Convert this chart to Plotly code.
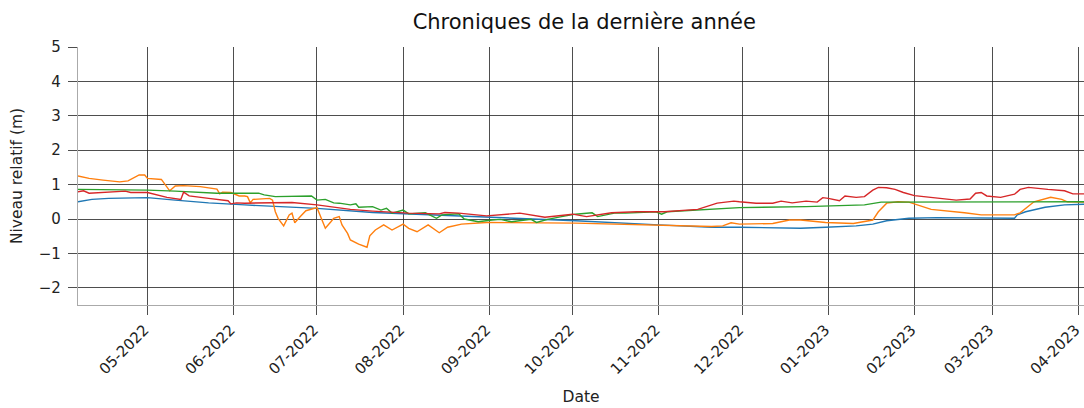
import plotly.graph_objects as go

# ---- Data ----
blue_dates = ["2022-04-06","2022-04-11","2022-04-17","2022-05-01","2022-05-11","2022-05-23","2022-06-05",
              "2022-07-01","2022-07-21","2022-08-03","2022-08-31","2022-10-02","2022-11-01","2022-11-20",
              "2022-11-30","2022-12-22","2022-12-31","2023-01-11","2023-01-17","2023-01-22","2023-01-30",
              "2023-02-09","2023-03-09","2023-03-10","2023-03-13","2023-03-20","2023-03-27","2023-04-03"]
blue_vals = [0.50,0.57,0.60,0.62,0.55,0.47,0.41,
             0.31,0.19,0.15,0.07,-0.05,-0.17,-0.24,
             -0.24,-0.27,-0.24,-0.20,-0.15,-0.05,0.02,
             0.04,0.02,0.12,0.21,0.34,0.41,0.43]

orange_dates = ["2022-04-06","2022-04-10","2022-04-15","2022-04-21","2022-04-24","2022-04-28","2022-04-30",
                "2022-05-01","2022-05-06","2022-05-07","2022-05-08","2022-05-09","2022-05-11","2022-05-14",
                "2022-05-20","2022-05-26","2022-05-27","2022-05-28","2022-05-31","2022-06-03","2022-06-05",
                "2022-06-06","2022-06-07","2022-06-08","2022-06-14","2022-06-15","2022-06-16","2022-06-17",
                "2022-06-19","2022-06-21","2022-06-22","2022-06-23","2022-06-25","2022-06-27","2022-07-01",
                "2022-07-02","2022-07-04","2022-07-06","2022-07-07","2022-07-09","2022-07-10","2022-07-12",
                "2022-07-13","2022-07-16","2022-07-19","2022-07-20","2022-07-22","2022-07-25","2022-07-28",
                "2022-08-01","2022-08-03","2022-08-06","2022-08-10","2022-08-14","2022-08-17","2022-08-22",
                "2022-08-31","2022-10-02","2022-11-01","2022-11-20","2022-11-24","2022-11-27","2022-11-30",
                "2022-12-12","2022-12-18","2022-12-22","2022-12-31","2023-01-10","2023-01-17","2023-01-19",
                "2023-01-22","2023-01-26","2023-01-30","2023-02-07","2023-02-19","2023-02-25","2023-03-09",
                "2023-03-11","2023-03-16","2023-03-22","2023-03-26","2023-03-28","2023-04-03"]
orange_vals = [1.25,1.18,1.13,1.08,1.11,1.28,1.28,
               1.18,1.15,1.04,0.94,0.82,0.96,0.97,
               0.94,0.87,0.73,0.78,0.77,0.67,0.67,
               0.65,0.47,0.57,0.60,0.55,0.21,0.02,
               -0.20,0.12,0.17,-0.11,0.07,0.24,0.33,
               0.12,-0.27,-0.08,0.02,0.07,-0.17,-0.42,
               -0.61,-0.73,-0.82,-0.49,-0.32,-0.17,-0.32,
               -0.15,-0.27,-0.37,-0.17,-0.40,-0.24,-0.15,
               -0.10,-0.12,-0.17,-0.22,-0.20,-0.11,-0.15,
               -0.13,-0.03,-0.03,-0.10,-0.13,-0.03,0.21,
               0.46,0.50,0.49,0.28,0.18,0.12,0.12,
               0.18,0.50,0.63,0.57,0.50,0.49]

green_dates = ["2022-04-06","2022-04-23","2022-05-01","2022-05-11","2022-05-26","2022-06-05","2022-06-10",
               "2022-06-12","2022-06-16","2022-06-29","2022-07-01","2022-07-04","2022-07-07","2022-07-09",
               "2022-07-13","2022-07-15","2022-07-16","2022-07-21","2022-07-24","2022-07-26","2022-07-28",
               "2022-08-01","2022-08-03","2022-08-09","2022-08-13","2022-08-15","2022-08-21","2022-08-23",
               "2022-08-28","2022-09-02","2022-09-05","2022-09-09","2022-09-16","2022-09-18","2022-09-22",
               "2022-09-27","2022-10-02","2022-10-08","2022-10-10","2022-10-16","2022-10-20","2022-10-31",
               "2022-11-02","2022-11-04","2022-11-17","2022-11-30","2022-12-24","2023-01-14","2023-01-20",
               "2023-01-30","2023-04-03"]
green_vals = [0.86,0.86,0.84,0.81,0.75,0.75,0.75,
              0.70,0.65,0.67,0.55,0.57,0.47,0.46,
              0.41,0.44,0.34,0.36,0.26,0.31,0.17,
              0.26,0.15,0.18,0.02,0.12,0.15,0.00,
              -0.08,-0.03,-0.01,-0.08,-0.01,-0.10,-0.01,
              0.07,0.14,0.18,0.07,0.17,0.17,0.21,
              0.14,0.21,0.26,0.33,0.36,0.41,0.49,
              0.49,0.50]

red_dates = ["2022-04-06","2022-04-08","2022-04-10","2022-04-15","2022-04-23","2022-04-25","2022-05-01",
             "2022-05-08","2022-05-12","2022-05-13","2022-05-14","2022-05-16","2022-05-23","2022-05-30",
             "2022-05-31","2022-06-02","2022-06-05","2022-06-15","2022-06-22","2022-07-01","2022-07-13",
             "2022-07-21","2022-08-03","2022-08-14","2022-08-16","2022-08-21","2022-08-31","2022-09-12",
             "2022-09-21","2022-10-01","2022-10-06","2022-10-15","2022-10-24","2022-11-03","2022-11-15",
             "2022-11-22","2022-11-28","2022-11-30","2022-12-06","2022-12-12","2022-12-15","2022-12-19",
             "2022-12-24","2022-12-28","2022-12-30","2023-01-01","2023-01-05","2023-01-07","2023-01-11",
             "2023-01-14","2023-01-17","2023-01-19","2023-01-22","2023-01-25","2023-01-28","2023-02-01",
             "2023-02-07","2023-02-16","2023-02-21","2023-02-23","2023-02-25","2023-02-27","2023-03-04",
             "2023-03-09","2023-03-11","2023-03-14","2023-03-21","2023-03-27","2023-03-30","2023-04-03"]
red_vals = [0.79,0.82,0.75,0.78,0.81,0.77,0.77,
            0.63,0.57,0.57,0.78,0.67,0.60,0.53,
            0.44,0.47,0.46,0.47,0.48,0.41,0.28,
            0.23,0.17,0.15,0.19,0.17,0.09,0.17,
            0.05,0.14,0.07,0.18,0.21,0.21,0.28,
            0.46,0.52,0.50,0.46,0.46,0.52,0.47,
            0.52,0.49,0.62,0.60,0.53,0.67,0.63,
            0.65,0.84,0.92,0.91,0.86,0.77,0.68,
            0.63,0.55,0.58,0.75,0.77,0.67,0.63,
            0.72,0.86,0.92,0.86,0.82,0.73,0.73]

x_tick_vals = ["2022-05-01","2022-06-01","2022-07-01","2022-08-01","2022-09-01","2022-10-01",
               "2022-11-01","2022-12-01","2023-01-01","2023-02-01","2023-03-01","2023-04-01"]
x_tick_text = ["05-2022","06-2022","07-2022","08-2022","09-2022","10-2022",
               "11-2022","12-2022","01-2023","02-2023","03-2023","04-2023"]
y_tick_vals = [-2, -1, 0, 1, 2, 3, 4, 5]
y_tick_text = ["\u22122", "\u22121", "0", "1", "2", "3", "4", "5"]

FONT = "DejaVu Sans"
fig = go.Figure()
for d, v, c in [(blue_dates, blue_vals, "#1f77b4"),
                (orange_dates, orange_vals, "#ff7f0e"),
                (green_dates, green_vals, "#2ca02c"),
                (red_dates, red_vals, "#d62728")]:
    fig.add_trace(go.Scatter(x=d, y=v, mode="lines", line=dict(color=c, width=1.4),
                             showlegend=False, hoverinfo="skip"))

fig.update_layout(
    width=1084, height=408,
    margin=dict(l=78, r=0, t=47, b=103, autoexpand=False),
    paper_bgcolor="white", plot_bgcolor="white",
    font=dict(family=FONT, size=15, color="#222"),
    title=dict(text="Chroniques de la dernière année", x=0.539, xanchor="center",
               y=0.946, yanchor="middle", font=dict(family=FONT, size=21, color="#111")),
    xaxis=dict(range=["2022-04-06", "2023-04-03"], tickmode="array",
               tickvals=x_tick_vals, ticktext=x_tick_text, tickangle=-45,
               showgrid=True, gridcolor="#222", gridwidth=0.8,
               ticks="outside", ticklen=9, tickcolor="#222", tickwidth=0.8,
               showline=True, linecolor="#aaaaaa", linewidth=1.2, zeroline=False,
               automargin=False, ticklabeloverflow="allow", ticklabelshift=-3,
               title=dict(text="Date", font=dict(family=FONT, size=15.5), standoff=14),
               tickfont=dict(family=FONT, size=15)),
    yaxis=dict(range=[-2.5, 5], tickmode="array", tickvals=y_tick_vals, ticktext=y_tick_text,
               showgrid=True, gridcolor="#222", gridwidth=0.8,
               ticks="outside", ticklen=9, tickcolor="#222", tickwidth=0.8,
               showline=True, linecolor="#aaaaaa", linewidth=1.2, zeroline=False,
               automargin=False, ticklabelstandoff=4,
               title=dict(text="Niveau relatif (m)", font=dict(family=FONT, size=15.5), standoff=12),
               tickfont=dict(family=FONT, size=15)),
)

# remove the default 8px page margin so the figure fills the 1084x408 window exactly
fig.write_html("out.html", config={"displayModeBar": False, "staticPlot": True},
               post_script="document.body.style.margin='0';document.body.style.overflow='hidden';")
